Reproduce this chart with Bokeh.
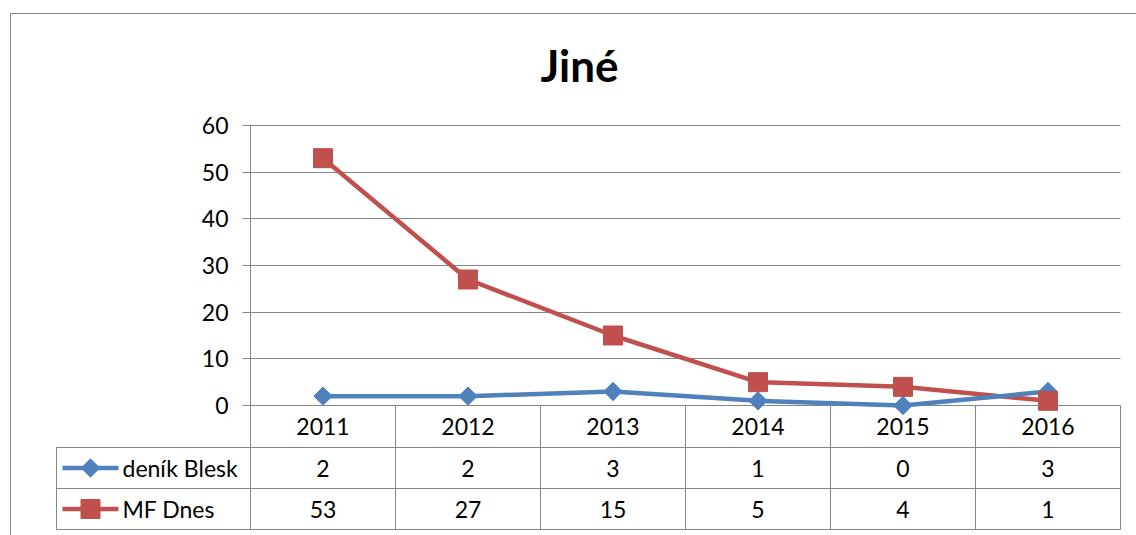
import math
from bokeh.plotting import figure
from bokeh.models import LinearAxis, FixedTicker, Grid, Range1d
from bokeh.core.properties import value
from bokeh.embed import file_html
from bokeh.resources import INLINE

years = ["2011", "2012", "2013", "2014", "2015", "2016"]
series_names = ["deník Blesk", "MF Dnes"]
blesk = [2, 2, 3, 1, 0, 3]
mfdnes = [53, 27, 15, 5, 4, 1]
y_ticks = [0, 10, 20, 30, 40, 50, 60]
title_text = "Jiné"

BLUE = "#4F81BD"
RED = "#C0504D"
GRID = "#868686"
FONT = "Lato"
FS = "23px"

# layout constants (pixels)
COL_W = 145.0          # px per category column
PX_PER_UNIT = 4.6667   # px per y unit
PLOT_LEFT = 250.0      # pixel x of category 0 boundary
ZERO_Y = 405.0         # pixel y of value 0
FRAME_L, FRAME_R, FRAME_T, FRAME_B = 10.0, 1137.0, 13.0, 536.0

def xu(px):
    return (px - PLOT_LEFT) / COL_W

def yu(py):
    return (ZERO_Y - py) / PX_PER_UNIT

p = figure(width=1136, height=535, output_backend="svg", toolbar_location=None,
           x_range=Range1d(xu(FRAME_L), xu(FRAME_R)),
           y_range=Range1d(yu(FRAME_B), yu(FRAME_T)),
           x_axis_type=None, y_axis_type=None,
           min_border_left=10, min_border_right=0, min_border_top=13, min_border_bottom=0)
p.frame_width = int(FRAME_R - FRAME_L)
p.frame_height = int(FRAME_B - FRAME_T)
p.xgrid.visible = False
p.ygrid.visible = False
p.outline_line_color = GRID
p.outline_line_width = 1
p.background_fill_color = "white"
p.border_fill_color = "white"

n = len(years)
xs = [i + 0.5 for i in range(n)]

# horizontal gridlines limited to plot area
grid = Grid(dimension=1, ticker=FixedTicker(ticks=y_ticks), grid_line_color=GRID,
            grid_line_width=1, cross_bounds=(0, n))
p.add_layout(grid, "center")

# y axis at x=0
yaxis = LinearAxis(ticker=FixedTicker(ticks=y_ticks), fixed_location=0, bounds=(0, max(y_ticks)),
                   axis_line_color=GRID, major_tick_line_color=GRID, minor_tick_line_color=None,
                   major_tick_out=8, major_tick_in=0, major_label_standoff=14,
                   major_label_text_font=FONT, major_label_text_font_size=FS,
                   major_label_text_color="black")
p.add_layout(yaxis, "left")

# table lines
row_top = yu(447)
row_mid = yu(488)
row_bot = yu(529)
leg_left = xu(56)
p.segment(x0=list(range(0, n + 1)), y0=[0] * (n + 1), x1=list(range(0, n + 1)), y1=[row_bot] * (n + 1),
          line_color=GRID, line_width=1)
p.segment(x0=[leg_left], y0=[row_top], x1=[leg_left], y1=[row_bot], line_color=GRID, line_width=1)
p.segment(x0=[leg_left] * 3, y0=[row_top, row_mid, row_bot], x1=[n] * 3, y1=[row_top, row_mid, row_bot],
          line_color=GRID, line_width=1)

# series lines
p.line(xs, mfdnes, line_color=RED, line_width=4.5)
p.line(xs, blesk, line_color=BLUE, line_width=4.5)
p.scatter(xs, blesk, marker="square", angle=math.pi / 4, size=13, fill_color=BLUE, line_color=BLUE)
p.scatter(xs, mfdnes, marker="square", size=19, fill_color=RED, line_color=RED)

# table text
hdr_y = (0 + row_top) / 2
r1_y = (row_top + row_mid) / 2
r2_y = (row_mid + row_bot) / 2
common = dict(text_font=value(FONT), text_font_size=FS, text_color="black",
              text_align="center", text_baseline="middle")
p.text(x=xs, y=[hdr_y] * n, text=years, **common)
p.text(x=xs, y=[r1_y] * n, text=[str(v) for v in blesk], **common)
p.text(x=xs, y=[r2_y] * n, text=[str(v) for v in mfdnes], **common)

# legend keys
lx0, lx1, lxc = xu(62), xu(118), xu(90)
p.line([lx0, lx1], [r1_y, r1_y], line_color=BLUE, line_width=4.5)
p.scatter([lxc], [r1_y], marker="square", angle=math.pi / 4, size=13, fill_color=BLUE, line_color=BLUE)
p.line([lx0, lx1], [r2_y, r2_y], line_color=RED, line_width=4.5)
p.scatter([lxc], [r2_y], marker="square", size=19, fill_color=RED, line_color=RED)
p.text(x=[xu(122)] * 2, y=[r1_y, r2_y], text=series_names, text_font=value(FONT), text_font_size=FS,
       text_color="black", text_align="left", text_baseline="middle")

# title
p.text(x=[xu(579)], y=[yu(64)], text=[title_text], text_font=value(FONT), text_font_size="44px",
       text_font_style="bold", text_color="black", text_align="center", text_baseline="middle")

open("out.html", "w").write(file_html(p, INLINE))
